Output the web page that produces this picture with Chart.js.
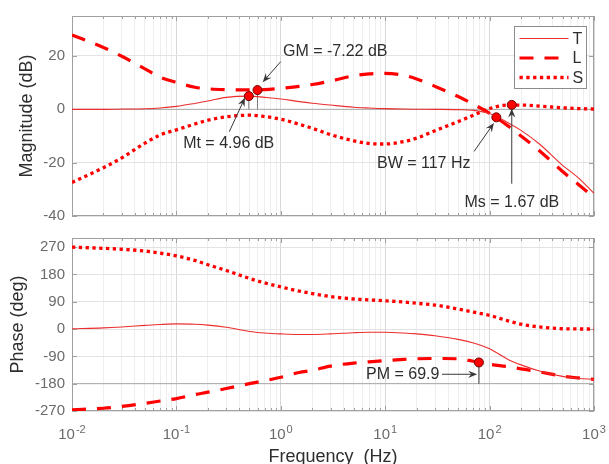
<!DOCTYPE html>
<html>
<head>
<meta charset="utf-8">
<script src="https://cdn.jsdelivr.net/npm/chart.js@4.4.0/dist/chart.umd.min.js"></script>
<style>
  html, body { margin: 0; padding: 0; background: #fff; overflow: hidden; }
  #wrap { position: relative; width: 609px; height: 464px; }
  canvas { position: absolute; left: 0; }
  #mag { top: 0; }
  #phase { top: 222px; }
</style>
</head>
<body>
<div id="wrap">
  <canvas id="mag" width="609" height="232"></canvas>
  <canvas id="phase" width="609" height="250"></canvas>
</div>
<script>
// frequency grid (Hz)
const freq = [0.01, 0.02, 0.03, 0.05, 0.07, 0.1, 0.15, 0.2, 0.3, 0.5, 0.7, 1, 1.5, 2, 3, 5, 7, 10, 15, 20, 30, 50, 70, 100, 150, 200, 300, 500, 700, 1000];

// magnitude (dB)
const magT = [0, 0, 0.1, 0.2, 0.5, 1.1, 2.2, 3.1, 4.5, 4.96, 4.5, 3.9, 2.9, 2.3, 1.6, 0.8, 0.5, 0.25, 0.1, 0.05, 0, -0.1, -0.4, -1.6, -5.0, -7.9, -13.0, -21.0, -25.5, -31.5];
const magL = [27.9, 23.2, 19.9, 15.2, 12.0, 10.1, 8.3, 7.7, 7.4, 7.3, 7.4, 7.9, 8.6, 9.3, 10.6, 12.6, 13.3, 13.5, 12.8, 11.4, 8.6, 4.8, 1.9, -1.5, -6.2, -10.0, -15.5, -23.3, -28.0, -33.0];
const magS = [-27.4, -21.9, -18.2, -12.7, -9.6, -7.7, -5.5, -4.1, -2.8, -2.2, -2.7, -3.7, -5.6, -7.1, -9.5, -11.8, -12.8, -13.0, -12.1, -10.8, -8.0, -4.6, -2.2, 0.3, 1.6, 1.6, 1.2, 0.6, 0.3, 0.1];

// phase (deg)
const phT = [1, 4, 7, 12, 15, 17, 16, 13, 6, -8, -13, -16, -18, -18, -16, -12, -10.5, -10.6, -13, -16, -22, -34, -46, -65, -100, -118, -138, -156, -162, -166];
const phL = [-266, -261, -255, -245, -237, -229, -216, -208, -196, -180, -170, -159, -143, -136, -122, -112, -108, -104, -100, -98, -97, -98, -106, -116, -124, -131, -141, -155, -161, -166];
const phS = [270, 266, 263, 257, 250, 241, 226, 212, 193, 167, 152, 139, 125, 117, 107, 99, 96, 93, 89, 85, 79, 66, 56, 45, 27, 16, 7, 1, 0.3, 0];

// margin markers
const magMarkF = [0.494, 0.598, 116, 163];   // Mt, GM, BW, Ms
const magMarkV = [4.96, 7.22, -3, 1.67];
const pmF = 79, pmPhase = -110.1;

// axes
const decades = [0.01, 0.1, 1, 10, 100, 1000];
const decadeExp = ['-2', '-1', '0', '1', '2', '3'];
const magTicks = [-40, -20, 0, 20];
const phaseTicks = [-270, -180, -90, 0, 90, 180, 270];

// text notes: anchor (left, middle) and arrow from -> to, in data units
const magNotes = [
  { text: 'GM = -7.22 dB', at: [1.05, 21.8], from: [1.0, 17.9], to: [0.67, 10.2] },
  { text: 'Mt = 4.96 dB', at: [0.116, -13.0], from: [0.321, -8.4], to: [0.454, 4.4] },
  { text: 'BW = 117 Hz', at: [8.34, -20.4], from: [71, -15.8], to: [110, -5.1] },
  { text: 'Ms = 1.67 dB', at: [57.5, -34.8], from: [163, -27.9], to: [163, 0.3] },
];
const phaseNotes = [
  { text: 'PM = 69.9', at: [6.55, -149], from: [35, -149], to: [76, -149] },
];

const FONT = '"Liberation Sans", Arial, Helvetica, sans-serif';
const RED = 'rgb(255,0,0)';
const TICK = '#6b6b6b';
const TITLE = '#2e2e2e';
const FRAME = '#a0a0a0';
const INK = '#383838';

// log tick positions: decades plus 2..9 in each
const xTicks = [];
decades.forEach((d, i) => {
  xTicks.push(d);
  if (i < decades.length - 1) for (let m = 2; m <= 9; m++) xTicks.push(+(d * m).toPrecision(3));
});
const isDecade = v => decades.some(d => Math.abs(d - v) / d < 1e-6);

const pts = ys => freq.map((f, i) => ({ x: f, y: ys[i] }));
const seg = (x1, y1, x2, y2) => [{ x: x1, y: y1 }, { x: x2, y: y2 }];

function curves(T, L, S) {
  return [
    { label: 'T', data: pts(T), borderColor: 'rgb(236,45,45)', borderWidth: 1.1 },
    { label: 'L', data: pts(L), borderColor: RED, borderWidth: 3.2, borderDash: [14, 11] },
    { label: 'S', data: pts(S), borderColor: RED, borderWidth: 3.3, borderDash: [3.3, 3.5] },
  ];
}

function markers(data) {
  return { data, showLine: false, pointRadius: 4.5, pointBackgroundColor: RED,
           pointBorderColor: '#6a0000', pointBorderWidth: 1 };
}

function xScale(showTitle, height) {
  return {
    type: 'logarithmic', min: 0.01, max: 1000,
    afterBuildTicks: s => { s.ticks = xTicks.map(v => ({ value: v })); },
    afterFit: s => { s.height = height; s.paddingLeft = 0; s.paddingRight = 0; },
    ticks: { display: false },
    grid: { drawTicks: false, color: c => (c.tick && isDecade(c.tick.value)) ? '#d9d9d9' : '#eeeeee' },
    border: { display: false },
    title: { display: showTitle, text: 'Frequency  (Hz)', color: TITLE,
             font: { family: FONT, size: 18 }, padding: { top: 0, bottom: 4 } },
  };
}

function yScale(min, max, ticks, title, titlePad) {
  return {
    min, max,
    afterBuildTicks: s => { s.ticks = ticks.map(v => ({ value: v })); },
    afterFit: s => { s.width = 72; },
    ticks: { padding: 7, color: TICK, font: { family: FONT, size: 15 } },
    grid: { drawTicks: false, color: '#e3e3e3' },
    border: { display: false },
    title: { display: true, text: title, color: TITLE, font: { family: FONT, size: 18 },
             padding: { top: titlePad, bottom: 0 } },
  };
}

// box around the axes with inward tick marks
const framePlugin = {
  id: 'frame',
  beforeDatasetsDraw(chart) {
    const { ctx, chartArea: a, scales: { x, y } } = chart;
    ctx.save();
    ctx.strokeStyle = FRAME;
    ctx.lineWidth = 1;
    ctx.beginPath();
    x.ticks.forEach(t => {
      const px = Math.round(x.getPixelForValue(t.value)) + 0.5;
      const len = isDecade(t.value) ? 5 : 3;
      ctx.moveTo(px, a.bottom); ctx.lineTo(px, a.bottom - len);
      ctx.moveTo(px, a.top); ctx.lineTo(px, a.top + len);
    });
    y.ticks.forEach(t => {
      const py = Math.round(y.getPixelForValue(t.value)) + 0.5;
      ctx.moveTo(a.left, py); ctx.lineTo(a.left + 5, py);
      ctx.moveTo(a.right, py); ctx.lineTo(a.right - 5, py);
    });
    ctx.stroke();
    ctx.strokeRect(Math.round(a.left) + 0.5, Math.round(a.top) + 0.5, Math.round(a.width) - 1, Math.round(a.height) - 1);
    ctx.restore();
  },
};

// "10" with a raised exponent under each decade line
const decadeLabelPlugin = {
  id: 'decadeLabels',
  afterDraw(chart) {
    const { ctx, chartArea: a, scales: { x } } = chart;
    ctx.save();
    ctx.fillStyle = TICK;
    ctx.textBaseline = 'alphabetic';
    ctx.textAlign = 'left';
    decades.forEach((d, i) => {
      ctx.font = '15px ' + FONT;
      const wb = ctx.measureText('10').width;
      ctx.font = '11px ' + FONT;
      const we = ctx.measureText(decadeExp[i]).width;
      const x0 = x.getPixelForValue(d) - (wb + we + 1) / 2;
      const base = a.bottom + 28;
      ctx.font = '15px ' + FONT;
      ctx.fillText('10', x0, base);
      ctx.font = '11px ' + FONT;
      ctx.fillText(decadeExp[i], x0 + wb + 1, base - 6);
    });
    ctx.restore();
  },
};

function drawArrow(ctx, x1, y1, x2, y2) {
  const ang = Math.atan2(y2 - y1, x2 - x1), c = Math.cos(ang), s = Math.sin(ang);
  const L = 9, W = 3.6;
  ctx.beginPath();
  ctx.moveTo(x1, y1);
  ctx.lineTo(x2 - 5 * c, y2 - 5 * s);
  ctx.stroke();
  ctx.beginPath();
  ctx.moveTo(x2, y2);
  ctx.lineTo(x2 - L * c - W * s, y2 - L * s + W * c);
  ctx.lineTo(x2 - 0.65 * L * c, y2 - 0.65 * L * s);
  ctx.lineTo(x2 - L * c + W * s, y2 - L * s - W * c);
  ctx.closePath();
  ctx.fill();
}

const notesPlugin = notes => ({
  id: 'notes',
  afterDatasetsDraw(chart) {
    const { ctx, scales: { x, y } } = chart;
    ctx.save();
    ctx.lineWidth = 1;
    notes.forEach(n => {
      ctx.strokeStyle = INK; ctx.fillStyle = INK;
      drawArrow(ctx, x.getPixelForValue(n.from[0]), y.getPixelForValue(n.from[1]),
                     x.getPixelForValue(n.to[0]), y.getPixelForValue(n.to[1]));
      ctx.fillStyle = '#2e2e2e';
      ctx.font = '16px ' + FONT;
      ctx.textAlign = 'left';
      ctx.textBaseline = 'middle';
      ctx.fillText(n.text, x.getPixelForValue(n.at[0]), y.getPixelForValue(n.at[1]));
    });
    ctx.restore();
  },
});

// legend box in the upper-right corner
const legendPlugin = {
  id: 'boxLegend',
  afterDraw(chart) {
    const { ctx, chartArea: a } = chart;
    const items = chart.data.datasets.filter(d => ['T', 'L', 'S'].includes(d.label));
    const w = 72, h = 62, bx = Math.round(a.right - 8 - w) + 0.5, by = Math.round(a.top + 10) + 0.5;
    ctx.save();
    ctx.fillStyle = '#fff';
    ctx.fillRect(bx, by, w, h);
    ctx.strokeStyle = '#8c8c8c';
    ctx.lineWidth = 1;
    ctx.strokeRect(bx, by, w, h);
    items.forEach((d, i) => {
      const yy = by + 12 + i * 19.5;
      ctx.beginPath();
      ctx.setLineDash(d.borderDash || []);
      ctx.strokeStyle = d.borderColor;
      ctx.lineWidth = d.borderWidth;
      ctx.moveTo(bx + 5, yy);
      ctx.lineTo(bx + 54, yy);
      ctx.stroke();
      ctx.setLineDash([]);
      ctx.fillStyle = '#2e2e2e';
      ctx.font = '16px ' + FONT;
      ctx.textBaseline = 'middle';
      ctx.fillText(d.label, bx + 58, yy + 1);
    });
    ctx.restore();
  },
};

const common = {
  responsive: false,
  animation: false,
  events: [],
  elements: {
    point: { radius: 0 },
    line: { fill: false, cubicInterpolationMode: 'monotone', borderCapStyle: 'butt' },
  },
  plugins: { legend: { display: false }, tooltip: { enabled: false } },
};

// magnitude plot
new Chart(document.getElementById('mag'), {
  type: 'line',
  data: {
    datasets: [
      markers(magMarkF.map((f, i) => ({ x: f, y: magMarkV[i] }))),
      ...curves(magT, magL, magS),
      { data: seg(magMarkF[0], 0, magMarkF[0], magMarkV[0]), borderColor: '#707070', borderWidth: 1 },
      { data: seg(magMarkF[1], 0, magMarkF[1], magMarkV[1]), borderColor: '#707070', borderWidth: 1 },
      { data: seg(0.01, 0, 1000, 0), borderColor: '#a8a8a8', borderWidth: 1 },
    ],
  },
  options: {
    ...common,
    layout: { padding: { left: 0, right: 15, top: 13, bottom: 15 } },
    scales: {
      x: xScale(false, 0),
      y: yScale(-40, 35, magTicks, 'Magnitude (dB)', 16),
    },
  },
  plugins: [framePlugin, notesPlugin(magNotes), legendPlugin],
});

// phase plot
new Chart(document.getElementById('phase'), {
  type: 'line',
  data: {
    datasets: [
      markers([{ x: pmF, y: pmPhase }]),
      ...curves(phT, phL, phS),
      { data: seg(pmF, -180, pmF, pmPhase), borderColor: '#303030', borderWidth: 1 },
      { data: seg(0.01, -180, 1000, -180), borderColor: '#a8a8a8', borderWidth: 1 },
    ],
  },
  options: {
    ...common,
    layout: { padding: { left: 0, right: 15, top: 10, bottom: 0 } },
    scales: {
      x: xScale(true, 61),
      y: yScale(-270, 300, phaseTicks, 'Phase (deg)', 7),
    },
  },
  plugins: [framePlugin, notesPlugin(phaseNotes), decadeLabelPlugin],
});
</script>
</body>
</html>
